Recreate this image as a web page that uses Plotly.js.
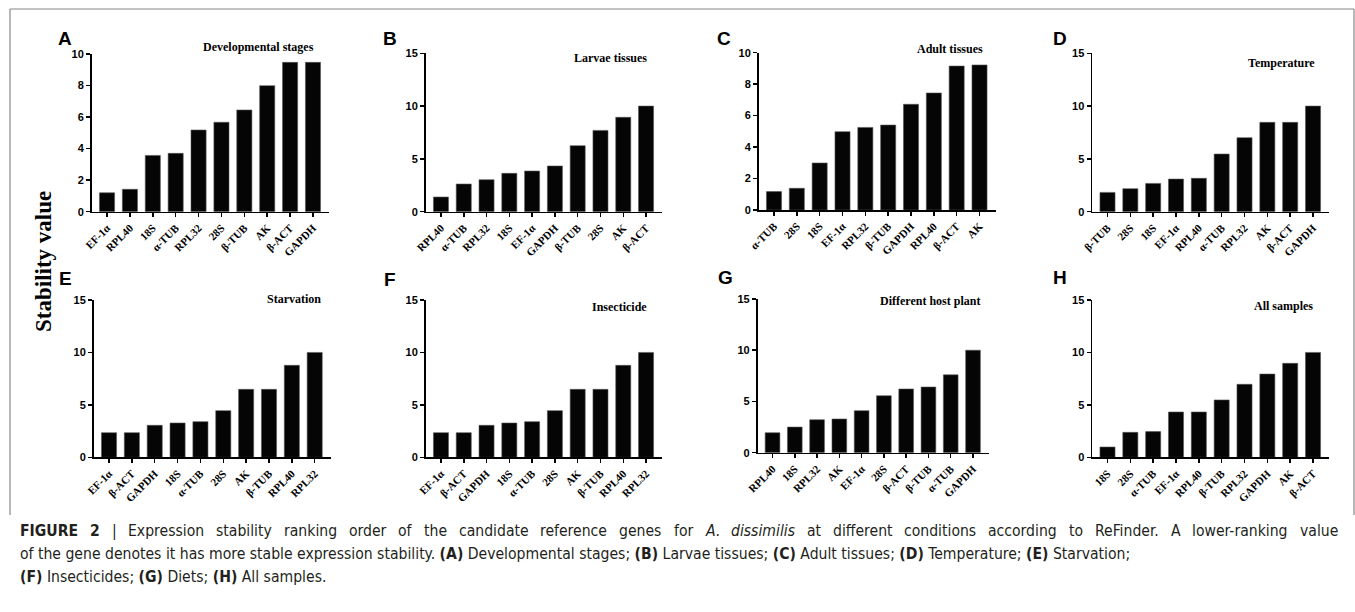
<!DOCTYPE html>
<html><head><meta charset="utf-8">
<script src="https://cdn.plot.ly/plotly-3.0.1.min.js"></script>
<style>html,body{margin:0;padding:0;background:#fff;}#chart{width:1355px;height:612px;}</style>
</head><body><div id="chart"></div>
<script>
// ---- data ----
const catsA = ["EF-1α","RPL40","18S","α-TUB","RPL32","28S","β-TUB","AK","β-ACT","GAPDH"];
const valsA = [1.2,1.42,3.57,3.7,5.18,5.67,6.45,7.99,9.47,9.47];
const catsB = ["RPL40","α-TUB","RPL32","18S","EF-1α","GAPDH","β-TUB","28S","AK","β-ACT"];
const valsB = [1.39,2.62,3.03,3.63,3.85,4.33,6.25,7.7,8.94,10];
const catsC = ["α-TUB","28S","18S","EF-1α","RPL32","β-TUB","GAPDH","RPL40","β-ACT","AK"];
const valsC = [1.17,1.38,2.99,4.98,5.25,5.4,6.72,7.44,9.15,9.22];
const catsD = ["β-TUB","28S","18S","EF-1α","RPL40","α-TUB","RPL32","AK","β-ACT","GAPDH"];
const valsD = [1.83,2.18,2.68,3.09,3.16,5.46,7.01,8.46,8.46,10];
const catsE = ["EF-1α","β-ACT","GAPDH","18S","α-TUB","28S","AK","β-TUB","RPL40","RPL32"];
const valsE = [2.35,2.35,3.05,3.27,3.4,4.45,6.48,6.48,8.77,10];
const catsF = ["EF-1α","β-ACT","GAPDH","18S","α-TUB","28S","AK","β-TUB","RPL40","RPL32"];
const valsF = [2.35,2.35,3.05,3.27,3.4,4.45,6.48,6.48,8.77,10];
const catsG = ["RPL40","18S","RPL32","AK","EF-1α","28S","β-ACT","β-TUB","α-TUB","GAPDH"];
const valsG = [1.95,2.5,3.22,3.29,4.1,5.56,6.22,6.41,7.6,10];
const catsH = ["18S","28S","α-TUB","EF-1α","RPL40","β-TUB","RPL32","GAPDH","AK","β-ACT"];
const valsH = [0.98,2.38,2.45,4.32,4.32,5.47,6.96,7.94,8.96,10];
const panelLetters = ["A","B","C","D","E","F","G","H"];
const panelTitles = ["Developmental stages","Larvae tissues","Adult tissues","Temperature","Starvation","Insecticide","Different host plant","All samples"];
const yTitle = "Stability value";
const captionLines = [
 "<b>FIGURE 2</b> | Expression stability ranking order of the candidate reference genes for <i>A. dissimilis</i> at different conditions according to ReFinder. A lower-ranking value",
 "of the gene denotes it has more stable expression stability. <b>(A)</b> Developmental stages; <b>(B)</b> Larvae tissues; <b>(C)</b> Adult tissues; <b>(D)</b> Temperature; <b>(E)</b> Starvation;",
 "<b>(F)</b> Insecticides; <b>(G)</b> Diets; <b>(H)</b> All samples."
];

// ---- layout geometry (pixels) ----
const W = 1355, H = 612;
const geo = [
 {x:[91.7,329],  y:[54,211.7],  ymax:10, dt:2, t:[258,47],  l:[65,38]},
 {x:[425.7,662], y:[53.3,211.7],ymax:15, dt:5, t:[610,58],  l:[390,38]},
 {x:[758.7,995.5],y:[52.7,210], ymax:10, dt:2, t:[950,49],  l:[724,38]},
 {x:[1092.2,1329],y:[53.3,211.7],ymax:15,dt:5, t:[1281,63], l:[1060,38]},
 {x:[93.7,330.7],y:[300,457.3], ymax:15, dt:5, t:[294,299], l:[65,279]},
 {x:[425.7,662], y:[300,457.3], ymax:15, dt:5, t:[619,307], l:[390,280]},
 {x:[757.6,988.6],y:[299,452.7],ymax:15, dt:5, t:[930,301], l:[725,278]},
 {x:[1092.2,1329],y:[300,457.3],ymax:15, dt:5, t:[1283,306],l:[1060,278]}
];
const cats = [catsA,catsB,catsC,catsD,catsE,catsF,catsG,catsH];
const vals = [valsA,valsB,valsC,valsD,valsE,valsF,valsG,valsH];

const data = [];
const layout = {
  width: W, height: H, autosize: false,
  margin: {l:0, r:0, t:0, b:0},
  paper_bgcolor: "#fff", plot_bgcolor: "rgba(0,0,0,0)",
  showlegend: false,
  annotations: [], shapes: []
};
const serif = "Liberation Serif, Times New Roman, serif";
const sans = "Liberation Sans, Arial, sans-serif";

for (let i = 0; i < 8; i++) {
  const n = i === 0 ? "" : String(i + 1);
  const g = geo[i];
  data.push({
    type: "bar", x: cats[i], y: vals[i],
    xaxis: "x" + n, yaxis: "y" + n,
    marker: {color: "#050505", line: {color: "#555", width: 0.6}},
    width: 0.66, hoverinfo: "x+y"
  });
  layout["xaxis" + n] = {
    domain: [g.x[0] / W, g.x[1] / W], anchor: "y" + n,
    type: "category", range: [-0.67, 9.7], fixedrange: true,
    showline: true, linecolor: "#000", linewidth: 1.7, showgrid: false, zeroline: false,
    ticks: "outside", ticklen: 4, tickwidth: 1.5, tickcolor: "#000",
    tickangle: -45, tickfont: {family: serif, size: 11, color: "#000", weight: 700}
  };
  layout["yaxis" + n] = {
    domain: [1 - g.y[1] / H, 1 - g.y[0] / H], anchor: "x" + n,
    range: [0, g.ymax], dtick: g.dt, tick0: 0, fixedrange: true,
    showline: true, linecolor: "#000", linewidth: 1.7, showgrid: false, zeroline: false,
    ticks: "outside", ticklen: 4, tickwidth: 1.5, tickcolor: "#000",
    tickfont: {family: sans, size: 11, color: "#000", weight: 700}
  };
  layout.annotations.push({
    xref: "paper", yref: "paper", x: g.t[0] / W, y: 1 - g.t[1] / H,
    xanchor: "center", yanchor: "middle", showarrow: false,
    text: panelTitles[i], font: {family: serif, size: 12, color: "#000", weight: 700}
  });
  layout.annotations.push({
    xref: "paper", yref: "paper", x: g.l[0] / W, y: 1 - g.l[1] / H,
    xanchor: "center", yanchor: "middle", showarrow: false,
    text: panelLetters[i], font: {family: sans, size: 19, color: "#000", weight: 700}
  });
}
// shared y axis title
layout.annotations.push({
  xref: "paper", yref: "paper", x: 43 / W, y: 1 - 262 / H,
  xanchor: "center", yanchor: "middle", showarrow: false, textangle: -90,
  text: yTitle, font: {family: serif, size: 23, color: "#000", weight: 700}
});

// caption (line 1 justified to full width, others left aligned)
const capFam = "Liberation Sans Narrow, Arial Narrow, DejaVu Sans Condensed, sans-serif";
const capSize = 15.6, capColor = "#231f20";
const capY = [531, 554, 577];
const cv = document.createElement("canvas").getContext("2d");
function tokens(line) {
  let b = false, it = false; const out = [];
  line.split(" ").filter(w => w.length).forEach(w => {
    if (w.includes("<b>")) b = true;
    if (w.includes("<i>")) it = true;
    out.push({plain: w.replace(/<\/?[bi]>/g, ""), b, it});
    if (w.includes("</b>")) b = false;
    if (w.includes("</i>")) it = false;
  });
  return out;
}
function styled(t) {
  let s = t.plain;
  if (t.it) s = "<i>" + s + "</i>";
  if (t.b) s = "<b>" + s + "</b>";
  return s;
}
function measure(t) {
  cv.font = (t.it ? "italic " : "") + (t.b ? "bold " : "") + capSize + "px " + capFam;
  return cv.measureText(t.plain).width;
}
{
  const toks = tokens(captionLines[0]);
  const widths = toks.map(measure);
  const total = widths.reduce((a, c) => a + c, 0);
  const x0 = 18, x1 = 1336;
  const gap = (x1 - x0 - total) / (toks.length - 1);
  let x = x0;
  toks.forEach((t, k) => {
    layout.annotations.push({
      xref: "paper", yref: "paper", x: x / W, y: 1 - capY[0] / H,
      xanchor: "left", yanchor: "middle", showarrow: false,
      text: styled(t), font: {family: capFam, size: capSize, color: capColor}
    });
    x += widths[k] + gap;
  });
}
for (let k = 1; k < 3; k++) {
  layout.annotations.push({
    xref: "paper", yref: "paper", x: 18 / W, y: 1 - capY[k] / H,
    xanchor: "left", yanchor: "middle", showarrow: false, align: "left",
    text: captionLines[k], font: {family: capFam, size: capSize, color: capColor}
  });
}
// frame
const fr = {type: "line", xref: "paper", yref: "paper", line: {color: "#888", width: 1.2}};
layout.shapes.push(Object.assign({}, fr, {x0: 10 / W, x1: 1354 / W, y0: 1 - 9 / H, y1: 1 - 9 / H}));
layout.shapes.push(Object.assign({}, fr, {x0: 10 / W, x1: 10 / W, y0: 1 - 9 / H, y1: 1 - 515 / H}));
layout.shapes.push(Object.assign({}, fr, {x0: 1354 / W, x1: 1354 / W, y0: 1 - 9 / H, y1: 1 - 515 / H}));

Plotly.newPlot("chart", data, layout, {displayModeBar: false, staticPlot: true});
</script>
</body></html>
